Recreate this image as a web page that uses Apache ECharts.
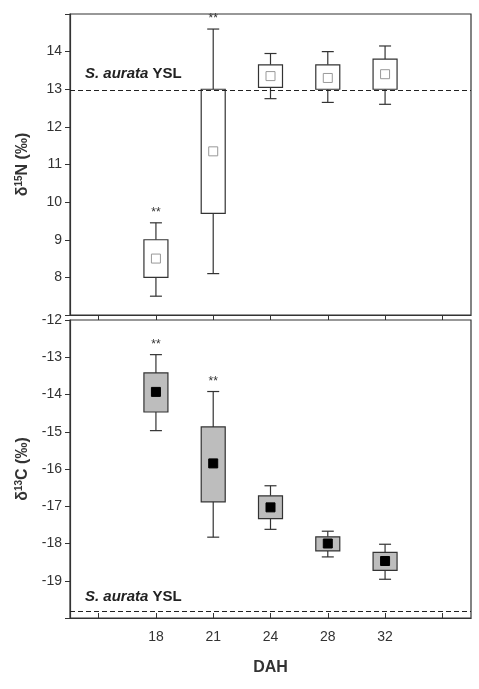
<!DOCTYPE html>
<html>
<head>
<meta charset="utf-8">
<script src="https://cdn.jsdelivr.net/npm/echarts@6/dist/echarts.min.js"></script>
<style>html,body{margin:0;padding:0;background:#fff}#main{width:479px;height:689px}</style>
</head>
<body>
<div id="main"></div>
<script>
// DAH groups, positioned at 2..6 on the x axis
var categories = ['18', '21', '24', '28', '32'];
var catPos = [2, 3, 4, 5, 6];
// [min, q1, mean, q3, max]
var n15 = [
  [7.5, 8.0, 8.5, 9.0, 9.45],
  [8.1, 9.7, 11.35, 13.0, 14.6],
  [12.75, 13.05, 13.35, 13.65, 13.95],
  [12.65, 13.0, 13.3, 13.65, 14.0],
  [12.6, 13.0, 13.4, 13.8, 14.15]
];
var c13 = [
  [-14.97, -14.47, -13.93, -13.42, -12.93],
  [-17.83, -16.88, -15.85, -14.87, -13.92],
  [-17.62, -17.33, -17.03, -16.72, -16.45],
  [-18.36, -18.2, -18.0, -17.82, -17.67],
  [-18.96, -18.72, -18.47, -18.24, -18.02]
];
var signif = [true, true, false, false, false];
var yslN = 12.97;
var yslC = -19.83;

var chart = echarts.init(document.getElementById('main'));
var font = 'Liberation Sans, Arial, sans-serif';

function boxData(arr) {
  return arr.map(function (d, i) { return [catPos[i]].concat(d).concat([signif[i] ? 1 : 0]); });
}

function makeBox(fill, markFill, markStroke) {
  return function (params, api) {
    var x = api.value(0);
    var pMin = api.coord([x, api.value(1)]);
    var pQ1 = api.coord([x, api.value(2)]);
    var pMean = api.coord([x, api.value(3)]);
    var pQ3 = api.coord([x, api.value(4)]);
    var pMax = api.coord([x, api.value(5)]);
    var bw = 24, cw = 12, cx = pMin[0];
    var st = { stroke: '#333', lineWidth: 1.2, fill: 'none' };
    var ch = [
      { type: 'line', shape: { x1: cx, y1: pMax[1], x2: cx, y2: pQ3[1] }, style: st },
      { type: 'line', shape: { x1: cx, y1: pQ1[1], x2: cx, y2: pMin[1] }, style: st },
      { type: 'line', shape: { x1: cx - cw / 2, y1: pMax[1], x2: cx + cw / 2, y2: pMax[1] }, style: st },
      { type: 'line', shape: { x1: cx - cw / 2, y1: pMin[1], x2: cx + cw / 2, y2: pMin[1] }, style: st },
      { type: 'rect', shape: { x: cx - bw / 2, y: pQ3[1], width: bw, height: pQ1[1] - pQ3[1] },
        style: { stroke: '#333', lineWidth: 1.2, fill: fill } },
      { type: 'rect', shape: { x: cx - 4.5, y: pMean[1] - 4.5, width: 9, height: 9 },
        style: { stroke: markStroke, lineWidth: 1, fill: markFill } }
    ];
    if (api.value(6)) {
      ch.push({ type: 'text', style: { x: cx, y: pMax[1] - 4, text: '**', fill: '#333',
        font: '12px ' + font, align: 'center', verticalAlign: 'bottom' } });
    }
    return { type: 'group', children: ch };
  };
}

var xTicks = [1, 2, 3, 4, 5, 6, 7];
function xAxis(idx, showLabels, inside) {
  return {
    type: 'value', gridIndex: idx, min: 0.5, max: 7.5,
    axisLine: { lineStyle: { color: '#333', width: 1.2 } },
    axisTick: { customValues: xTicks, inside: inside, length: 5, lineStyle: { color: '#333' } },
    axisLabel: { show: showLabels, customValues: catPos, color: '#333', fontSize: 14, fontFamily: font, margin: 12,
      formatter: function (v) { return categories[catPos.indexOf(v)] || ''; } },
    splitLine: { show: false },
    name: showLabels ? 'DAH' : '', nameLocation: 'middle', nameGap: 42,
    nameTextStyle: { fontSize: 16, fontWeight: 'bold', color: '#333', fontFamily: font }
  };
}
function yAxis(idx, min, max, hide, name) {
  return {
    type: 'value', gridIndex: idx, min: min, max: max, interval: 1,
    axisLine: { lineStyle: { color: '#333', width: 1.2 } },
    axisTick: { length: 5, lineStyle: { color: '#333' } },
    axisLabel: { color: '#333', fontSize: 14, fontFamily: font, margin: 8,
      formatter: function (v) { return hide.indexOf(v) >= 0 ? '' : String(v); } },
    splitLine: { show: false },
    name: name, nameLocation: 'middle', nameGap: 38, nameRotate: 90,
    nameTextStyle: { fontSize: 16, fontWeight: 'bold', color: '#333', fontFamily: font,
      rich: { sup: { fontSize: 10, fontWeight: 'bold', verticalAlign: 'top', padding: [0, 0, 8, 0], fontFamily: font } } }
  };
}

function yslText(top) {
  return { type: 'text', left: 85, top: top,
    style: { text: '{i|S. aurata} YSL', font: 'bold 15px ' + font, fill: '#222',
      rich: { i: { fontStyle: 'italic', fontWeight: 'bold', fontSize: 15, fontFamily: font } } } };
}

function dashLine(val) {
  return { silent: true, symbol: 'none', label: { show: false },
    lineStyle: { type: [5, 3], color: '#222', width: 1.2 }, data: [{ yAxis: val }] };
}

chart.setOption({
  animation: false,
  grid: [
    { left: 70, right: 8, top: 14, height: 301, show: true, borderColor: '#333', borderWidth: 1.2 },
    { left: 70, right: 8, top: 320, height: 298, show: true, borderColor: '#333', borderWidth: 1.2 }
  ],
  xAxis: [xAxis(0, false, false), xAxis(1, true, true)],
  yAxis: [
    yAxis(0, 7, 15, [7, 15], 'δ{sup|15}N (‰)'),
    yAxis(1, -20, -12, [-20], 'δ{sup|13}C (‰)')
  ],
  graphic: [yslText(66), yslText(589)],
  series: [
    { type: 'custom', xAxisIndex: 0, yAxisIndex: 0, data: boxData(n15),
      renderItem: makeBox('#fff', '#fff', '#999'), markLine: dashLine(yslN), encode: { x: 0, y: [1, 5] } },
    { type: 'custom', xAxisIndex: 1, yAxisIndex: 1, data: boxData(c13),
      renderItem: makeBox('#bdbdbd', '#000', '#000'), markLine: dashLine(yslC), encode: { x: 0, y: [1, 5] } }
  ]
});
</script>
</body>
</html>
